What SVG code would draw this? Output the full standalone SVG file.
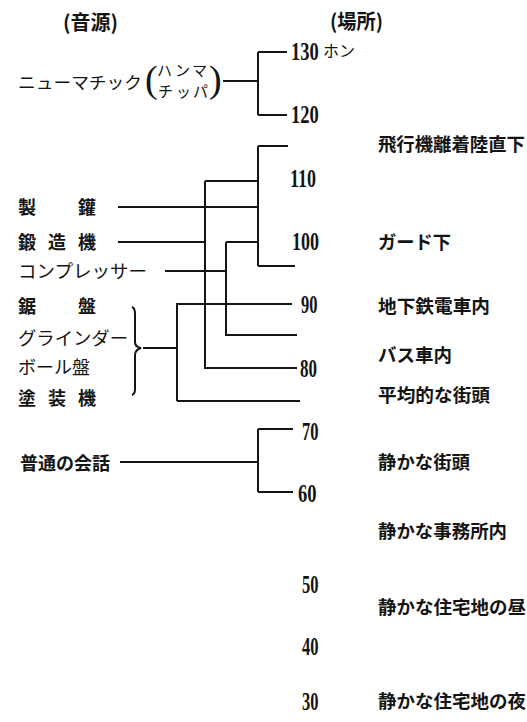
<svg xmlns="http://www.w3.org/2000/svg" width="527" height="722" viewBox="0 0 527 722">
<style>
.bg{fill:#ffffff}
.jp{font-family:"Noto Sans CJK JP","Noto Sans CJK SC",sans-serif;fill:#141414}
.b{font-weight:bold}
.n{font-weight:normal}
.num{font-family:"Liberation Serif","DejaVu Serif",serif;font-size:25px;font-weight:bold;fill:#141414}
.paren{font-family:"Liberation Serif",serif;font-size:38px;fill:#141414}
.ln{stroke:#141414;stroke-width:2;fill:none}
</style>
<rect class="bg" x="0" y="0" width="527" height="722"/>
<g id="headers">
<text class="jp b" x="63" y="30" font-size="20" textLength="55" lengthAdjust="spacingAndGlyphs">(音源)</text>
<text class="jp b" x="330" y="29" font-size="20" textLength="53" lengthAdjust="spacingAndGlyphs">(場所)</text>
</g>
<g id="connectors">
<path class="ln" d="M223,81 H258 M258,52 V115 M258,52 H287 M258,115 H287"/>
<path class="ln" d="M258,146 V266 M258,146 H288 M258,266 H295 M118,207 H258 M205,181 H258 M205,181 V368 H297 M118,242 H205 M226,242 H258 M226,242 V335 H297 M165,271 H226"/>
<path class="ln" d="M143,348 H177 M177,303 V401 M177,304 H292 M177,401 H300"/>
<path class="ln" d="M132,307 Q135,308 135,314 L135,342 Q135,347 141,348 Q135,350 135,355 L135,389 Q135,394 132,395"/>
<path class="ln" d="M120,462 H258 M258,429 V492 M258,429 H293 M258,492 H293"/>
</g>
<g id="src-pneumatic">
<text class="jp n" x="18" y="89" font-size="17" textLength="124" lengthAdjust="spacingAndGlyphs">ニューマチック</text>
<text class="paren" x="145" y="92">(</text>
<text class="jp n" font-size="15" x="157 175 192" y="76">ハンマ</text>
<text class="jp n" font-size="15" x="158 176 193" y="97">チッパ</text>
<text class="paren" x="209" y="92">)</text>
</g>
<g id="src-seikan"><text class="jp b" font-size="18" x="18 78" y="214">製鑵</text></g>
<g id="src-tanzoki"><text class="jp b" font-size="18" x="18 48 78" y="249">鍛造機</text></g>
<g id="src-compressor"><text class="jp n" font-size="18" x="18" y="278" textLength="129" lengthAdjust="spacingAndGlyphs">コンプレッサー</text></g>
<g id="src-noko"><text class="jp b" font-size="18" x="18 78" y="313">鋸盤</text></g>
<g id="src-grinder"><text class="jp n" font-size="18" x="18" y="345" textLength="110" lengthAdjust="spacingAndGlyphs">グラインダー</text></g>
<g id="src-ball"><text class="jp n" font-size="18" x="18" y="374" textLength="72" lengthAdjust="spacingAndGlyphs">ボール盤</text></g>
<g id="src-tosou"><text class="jp b" font-size="18" x="18 48 78" y="405">塗装機</text></g>
<g id="src-kaiwa"><text class="jp b" font-size="18" x="20" y="470" textLength="90" lengthAdjust="spacingAndGlyphs">普通の会話</text></g>
<g id="scale">
<text class="num" transform="translate(291,60) scale(0.74,1)">130</text>
<text class="jp n" x="323" y="57" font-size="16" textLength="32" lengthAdjust="spacingAndGlyphs">ホン</text>
<text class="num" transform="translate(291,123) scale(0.74,1)">120</text>
<text class="num" transform="translate(290,187) scale(0.72,1)">110</text>
<text class="num" transform="translate(292,250) scale(0.72,1)">100</text>
<text class="num" transform="translate(301,313) scale(0.66,1)">90</text>
<text class="num" transform="translate(300,377) scale(0.68,1)">80</text>
<text class="num" transform="translate(302,440) scale(0.66,1)">70</text>
<text class="num" transform="translate(298,502) scale(0.74,1)">60</text>
<text class="num" transform="translate(302,593) scale(0.66,1)">50</text>
<text class="num" transform="translate(302,655) scale(0.66,1)">40</text>
<text class="num" transform="translate(302,710) scale(0.66,1)">30</text>
</g>
<g id="place-airport"><text class="jp b" x="378" y="151" font-size="18.5" textLength="147" lengthAdjust="spacingAndGlyphs">飛行機離着陸直下</text></g>
<g id="place-guard"><text class="jp b" x="378" y="249" font-size="18.5" textLength="73" lengthAdjust="spacingAndGlyphs">ガード下</text></g>
<g id="place-subway"><text class="jp b" x="378" y="313" font-size="18.5" textLength="112" lengthAdjust="spacingAndGlyphs">地下鉄電車内</text></g>
<g id="place-bus"><text class="jp b" x="378" y="362" font-size="18.5" textLength="74" lengthAdjust="spacingAndGlyphs">バス車内</text></g>
<g id="place-street"><text class="jp b" x="378" y="402" font-size="18.5" textLength="112" lengthAdjust="spacingAndGlyphs">平均的な街頭</text></g>
<g id="place-quiet-street"><text class="jp b" x="378" y="469" font-size="18.5" textLength="92" lengthAdjust="spacingAndGlyphs">静かな街頭</text></g>
<g id="place-office"><text class="jp b" x="378" y="538" font-size="18.5" textLength="129" lengthAdjust="spacingAndGlyphs">静かな事務所内</text></g>
<g id="place-res-day"><text class="jp b" x="378" y="614" font-size="18.5">静かな住宅地の昼</text></g>
<g id="place-res-night"><text class="jp b" x="378" y="708" font-size="18.5">静かな住宅地の夜</text></g>
</svg>
